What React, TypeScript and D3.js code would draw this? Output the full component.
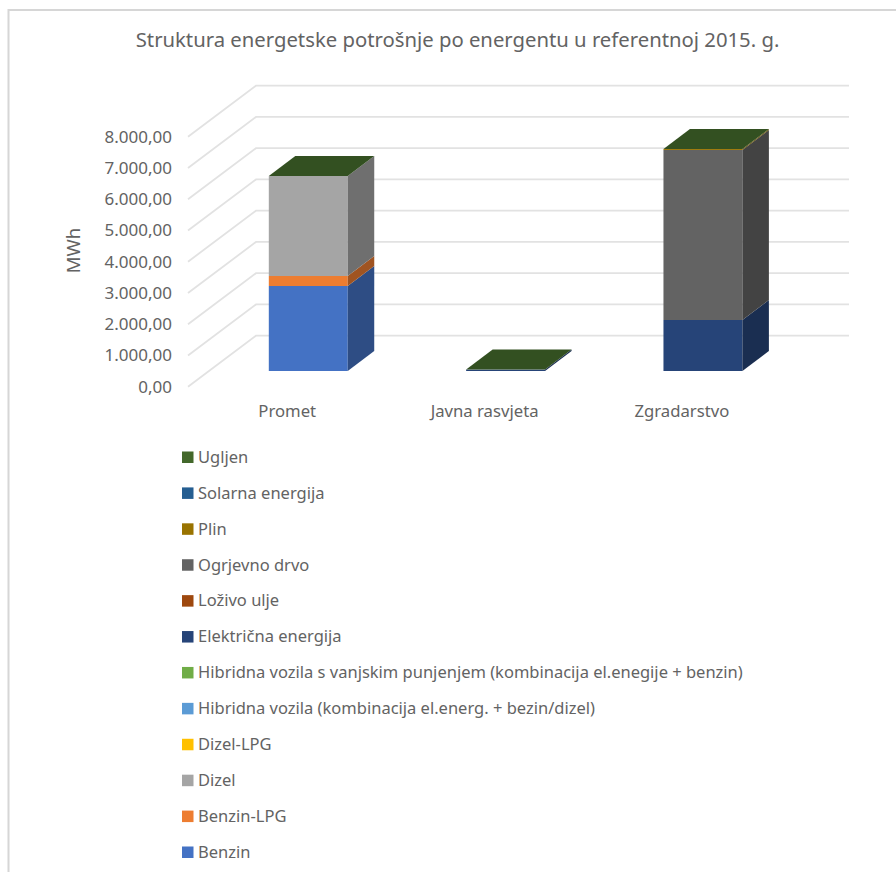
import React from "react";
import * as d3 from "d3";

const categories = ["Promet", "Javna rasvjeta", "Zgradarstvo"];
const seriesNames = [
  "Benzin",
  "Benzin-LPG",
  "Dizel",
  "Dizel-LPG",
  "Hibridna vozila (kombinacija el.energ. + bezin/dizel)",
  "Hibridna vozila s vanjskim punjenjem (kombinacija el.enegije + benzin)",
  "Električna energija",
  "Loživo ulje",
  "Ogrjevno drvo",
  "Plin",
  "Solarna energija",
  "Ugljen",
];
const benzin = [2720, 0, 0];
const benzinLpg = [320, 0, 0];
const dizel = [3200, 0, 0];
const dizelLpg = [0, 0, 0];
const hibrid = [0, 0, 0];
const hibridPunjenje = [0, 0, 0];
const elektricna = [0, 45, 1632];
const lozivoUlje = [0, 0, 0];
const ogrjevnoDrvo = [0, 0, 5440];
const plin = [0, 0, 30];
const solarna = [0, 0, 0];
const ugljen = [0, 0, 0];
const seriesValues = [
  benzin,
  benzinLpg,
  dizel,
  dizelLpg,
  hibrid,
  hibridPunjenje,
  elektricna,
  lozivoUlje,
  ogrjevnoDrvo,
  plin,
  solarna,
  ugljen,
];
const frontColors = [
  "#4472C4", "#ED7D31", "#A5A5A5", "#FFC000", "#5B9BD5", "#70AD47",
  "#264478", "#9E480E", "#636363", "#997300", "#255E91", "#43682B",
];
const yTicks = [0, 1000, 2000, 3000, 4000, 5000, 6000, 7000, 8000];

const WIDTH = 896;
const HEIGHT = 872;
const FONT = "'Noto Sans', 'Open Sans', sans-serif";
const TEXT = "#636363";

// Oblique projection of the 3D box: wall depth and column depth.
const WALL_DX = 68;
const WALL_DY = 51;
const BAR_DX = 26.5;
const BAR_DY = 20;

const formatTick = (v: number) => {
  const whole = d3.format(",")(v).replace(/,/g, ".");
  return `${whole},00`;
};

const x = d3
  .scaleBand<string>()
  .domain(categories)
  .range([209.6, 801.6])
  .paddingInner(0.6)
  .paddingOuter(0.3);
const yBar = d3.scaleLinear().domain([0, 8000]).range([371, 121]);
const yWall = d3.scaleLinear().domain([0, 8000]).range([335.7, 85.7]);

const stackRows = categories.map((c, i) => {
  const row: Record<string, number | string> = { category: c };
  seriesNames.forEach((s, j) => {
    row[s] = seriesValues[j][i];
  });
  return row;
});
const stacked = d3.stack<any>().keys(seriesNames)(stackRows);

const shade = (color: string, k: number) => d3.rgb(color).darker(k).formatHex();

const legendY = d3
  .scalePoint<string>()
  .domain([...seriesNames].reverse())
  .range([457, 852]);

export default function App() {
  return (
    <svg
      width={WIDTH}
      height={HEIGHT}
      viewBox={`0 0 ${WIDTH} ${HEIGHT}`}
      style={{ position: "absolute", left: 0, top: 0, fontFamily: FONT }}
    >
      <rect width={WIDTH} height={HEIGHT} fill="#fff" />
      <path d={`M8.5 ${HEIGHT}V10H${WIDTH}`} fill="none" stroke="#d6d6d6" strokeWidth={2} />

      <text x={457.5} y={46.5} textAnchor="middle" fontSize={20.3} fill={TEXT}>
        Struktura energetske potrošnje po energentu u referentnoj 2015. g.
      </text>

      {yTicks.map((t) => (
        <g key={t}>
          <polyline
            points={`${188},${yWall(t) + WALL_DY} ${188 + WALL_DX},${yWall(t)} 849,${yWall(t)}`}
            fill="none"
            stroke="#e2e2e2"
            strokeWidth={1.8}
          />
          <text
            x={172}
            y={yWall(t) + WALL_DY}
            dy="0.35em"
            textAnchor="end"
            fontSize={17}
            fill={TEXT}
          >
            {formatTick(t)}
          </text>
        </g>
      ))}

      <text
        transform="translate(80,250.5) rotate(-90)"
        textAnchor="middle"
        fontSize={18.5}
        fill={TEXT}
      >
        MWh
      </text>

      {categories.map((c, i) => {
        const left = x(c)!;
        const w = x.bandwidth();
        return (
          <g key={c}>
            {stacked.map((layer, j) => {
              const [y0, y1] = layer[i];
              const base = yBar(y0);
              const top = yBar(y1);
              const color = frontColors[j];
              return (
                <g key={layer.key}>
                  {y1 > y0 && (
                    <>
                      <rect x={left} y={top} width={w} height={base - top} fill={color} />
                      <polygon
                        points={[
                          [left + w, base],
                          [left + w + BAR_DX, base - BAR_DY],
                          [left + w + BAR_DX, top - BAR_DY],
                          [left + w, top],
                        ].join(" ")}
                        fill={shade(color, 1.1)}
                      />
                    </>
                  )}
                  {j === stacked.length - 1 && (
                    <polygon
                      points={[
                        [left, top],
                        [left + BAR_DX, top - BAR_DY],
                        [left + w + BAR_DX, top - BAR_DY],
                        [left + w, top],
                      ].join(" ")}
                      fill={shade(color, 0.75)}
                    />
                  )}
                </g>
              );
            })}
            <text
              x={left + w / 2 - 21}
              y={417}
              textAnchor="middle"
              fontSize={16.7}
              fill={TEXT}
            >
              {c}
            </text>
          </g>
        );
      })}

      {seriesNames.map((s, j) => {
        const cy = legendY(s)!;
        return (
          <g key={s}>
            <rect x={182} y={cy - 5.5} width={11.5} height={11.5} fill={frontColors[j]} />
            <text x={198} y={cy} dy="0.35em" fontSize={16.5} fill={TEXT}>
              {s}
            </text>
          </g>
        );
      })}
    </svg>
  );
}
